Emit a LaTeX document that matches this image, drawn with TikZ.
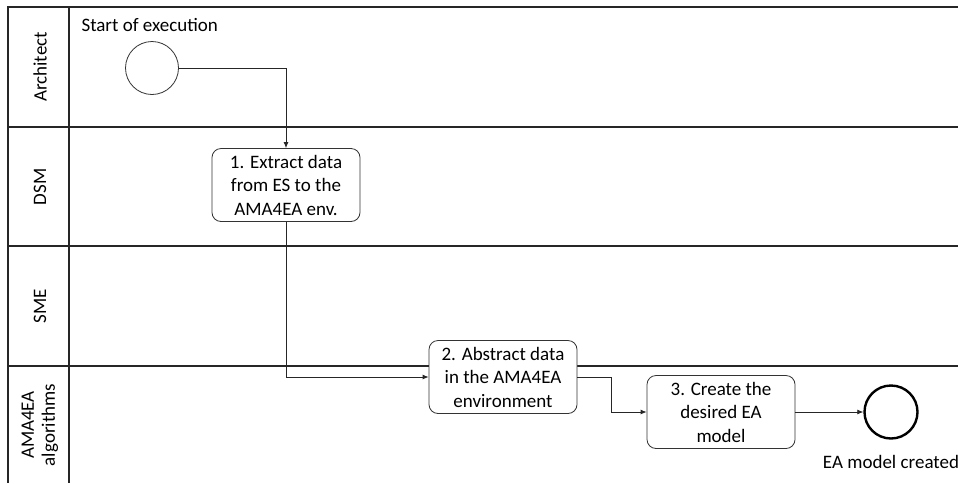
\documentclass[tikz,border=0pt]{standalone}
\usepackage{fontspec}
\setmainfont{Carlito}
\usetikzlibrary{arrows.meta}
\begin{document}
\begin{tikzpicture}[x=1pt,y=-1pt,font=\fontsize{19}{23.5}\selectfont,
        lane/.style={line width=1.2pt,draw=black!85},
        task/.style={draw=black!80,line width=0.8pt,rounded corners=9pt,fill=white,
            minimum width=148pt,minimum height=73pt,align=center,inner sep=2pt},
        startev/.style={circle,draw=black!80,line width=0.8pt,minimum size=53pt,inner sep=0pt},
        endev/.style={circle,draw=black,line width=2.4pt,minimum size=53pt,inner sep=0pt},
        flow/.style={draw=black!85,line width=0.8pt,-{Latex[length=6pt,width=5pt]}}]
\useasboundingbox (0,0) rectangle (958,483);

% lanes
\draw[lane] (958,7) -- (8,7) -- (8,483);
\draw[lane] (69,7) -- (69,483);
\foreach \y in {127,246,366}
  \draw[lane] (8,\y) -- (958,\y);
\node[rotate=90] (architect) at (40,67) {Architect};
\node[rotate=90] (dsm) at (40,187) {DSM};
\node[rotate=90] (sme) at (40,306) {SME};
\node[rotate=90,align=center,font=\fontsize{19}{21}\selectfont] (algos) at (40,425) {AMA4EA\\algorithms};

% events and tasks
\node[startev] (start) at (152,68) {};
\node[anchor=west] (startlbl) at (78,25) {Start of execution};
\node[task] (extract) at (286,185) {1. Extract data\\from ES to the\\AMA4EA env.};
\node[task] (abstract) at (503,377) {2. Abstract data\\in the AMA4EA\\environment};
\node[task] (create) at (721,412) {3. Create the\\desired EA\\model};
\node[endev] (finish) at (891,412) {};
\node (finishlbl) at (891,462) {EA model created};

% flows
\draw[flow] (start.east) -| (extract.north);
\draw[flow] (extract.south) |- (abstract.west);
\draw[flow] (abstract.east) -- ++(34,0) |- (create.west);
\draw[flow] (create.east) -- (finish.west);
\end{tikzpicture}
\end{document}
